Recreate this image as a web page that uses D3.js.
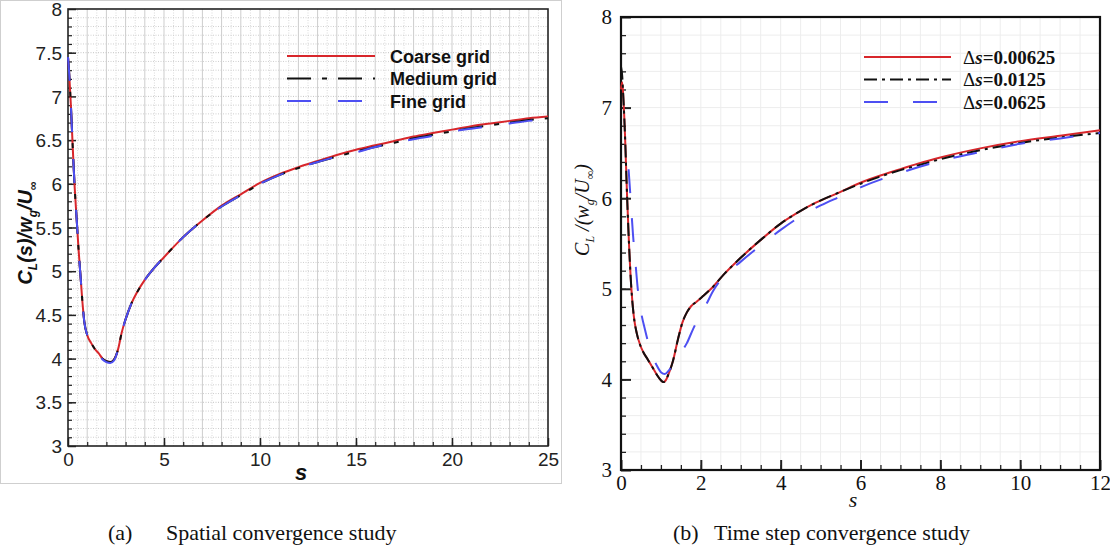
<!DOCTYPE html>
<html>
<head>
<meta charset="utf-8">
<script src="https://cdn.jsdelivr.net/npm/d3@7/dist/d3.min.js"></script>
<style>
  html, body { margin: 0; padding: 0; background: #fff; }
  svg { display: block; }
</style>
</head>
<body>
<svg id="chart" width="1110" height="556"></svg>
<script>
// ---- (a) spatial convergence: lift coefficient history for three grids ----
const sA = [0, 0.05, 0.15, 0.25, 0.35, 0.45, 0.55, 0.65, 0.75, 0.85, 1.0, 1.2, 1.4, 1.6, 1.8, 2.0, 2.2, 2.4, 2.6, 2.8, 3.0, 3.3, 3.6, 4.0, 4.5, 5, 6, 7, 8, 9, 10, 11, 12, 13, 14, 15, 16, 17, 18, 19, 20, 21, 22, 23, 24, 25];
const coarseGrid = [7.45, 7.3, 6.9, 6.4, 5.95, 5.6, 5.25, 4.95, 4.65, 4.42, 4.27, 4.18, 4.11, 4.06, 4.0, 3.97, 3.96, 3.99, 4.1, 4.3, 4.45, 4.63, 4.76, 4.9, 5.04, 5.16, 5.39, 5.58, 5.75, 5.88, 6.01, 6.11, 6.19, 6.26, 6.33, 6.39, 6.44, 6.49, 6.54, 6.58, 6.62, 6.66, 6.69, 6.72, 6.75, 6.77];
const mediumGrid = [7.45, 7.3, 6.9, 6.4, 5.95, 5.6, 5.25, 4.95, 4.65, 4.42, 4.27, 4.18, 4.11, 4.06, 4.0, 3.97, 3.96, 3.99, 4.1, 4.3, 4.45, 4.63, 4.76, 4.9, 5.04, 5.16, 5.39, 5.58, 5.74, 5.87, 6.0, 6.1, 6.18, 6.25, 6.31, 6.37, 6.42, 6.47, 6.52, 6.56, 6.6, 6.64, 6.67, 6.7, 6.73, 6.75];
const fineGrid   = [7.45, 7.3, 6.9, 6.4, 5.95, 5.6, 5.25, 4.95, 4.65, 4.42, 4.27, 4.18, 4.11, 4.05, 3.99, 3.96, 3.95, 3.98, 4.1, 4.3, 4.45, 4.63, 4.76, 4.9, 5.04, 5.16, 5.39, 5.58, 5.74, 5.87, 6.0, 6.1, 6.18, 6.25, 6.31, 6.36, 6.42, 6.47, 6.51, 6.55, 6.6, 6.63, 6.66, 6.69, 6.72, 6.74];
const seriesA = ["Coarse grid", "Medium grid", "Fine grid"];
const xTicksA = [0, 5, 10, 15, 20, 25];
const yTicksA = [3, 3.5, 4, 4.5, 5, 5.5, 6, 6.5, 7, 7.5, 8];

// ---- (b) time-step convergence ----
const sB = [0, 0.03, 0.06, 0.1, 0.15, 0.2, 0.26, 0.32, 0.4, 0.48, 0.56, 0.67, 0.78, 0.9, 1.0, 1.06, 1.12, 1.2, 1.3, 1.42, 1.54, 1.65, 1.76, 1.9, 2.03, 2.3, 2.6, 2.92, 3.5, 4.0, 4.5, 4.88, 5.5, 6.0, 6.5, 7.0, 7.5, 8.0, 9.0, 10, 11, 12];
const dt00625 = [7.2, 7.28, 7.1, 6.7, 6.05, 5.5, 5.0, 4.7, 4.5, 4.38, 4.3, 4.22, 4.14, 4.05, 3.99, 3.97, 3.99, 4.07, 4.2, 4.43, 4.63, 4.74, 4.81, 4.86, 4.91, 5.02, 5.17, 5.31, 5.54, 5.72, 5.86, 5.95, 6.07, 6.17, 6.25, 6.32, 6.39, 6.45, 6.55, 6.63, 6.69, 6.75];
const dt0125  = [7.45, 7.35, 7.1, 6.7, 6.05, 5.5, 5.0, 4.7, 4.5, 4.38, 4.3, 4.22, 4.14, 4.05, 3.99, 3.97, 3.99, 4.07, 4.2, 4.43, 4.63, 4.74, 4.81, 4.86, 4.91, 5.02, 5.17, 5.31, 5.54, 5.72, 5.86, 5.95, 6.07, 6.16, 6.24, 6.31, 6.37, 6.43, 6.53, 6.61, 6.67, 6.72];
const sB3 = [0.19, 0.24, 0.3, 0.36, 0.42, 0.5, 0.6, 0.7, 0.8, 0.9, 1.0, 1.1, 1.2, 1.3, 1.45, 1.65, 1.8, 1.96, 2.15, 2.3, 2.5, 3.0, 3.5, 4.0, 4.5, 5.0, 5.5, 6.0, 7.0, 8.0, 9.0, 10, 11, 12];
const dt0625  = [6.32, 6.0, 5.6, 5.3, 5.0, 4.75, 4.55, 4.38, 4.25, 4.15, 4.08, 4.06, 4.1, 4.16, 4.27, 4.4, 4.55, 4.69, 4.84, 4.97, 5.1, 5.3, 5.48, 5.65, 5.8, 5.92, 6.02, 6.12, 6.28, 6.41, 6.51, 6.6, 6.66, 6.72];
const seriesB = ["0.00625", "0.0125", "0.0625"];
const xTicksB = [0, 2, 4, 6, 8, 10, 12];
const yTicksB = [3, 4, 5, 6, 7, 8];

const RED = "#d8262b", BLACK = "#111", BLUE = "#4d4ff2";
const svg = d3.select("#chart");
const range = (a, b, st) => d3.range(Math.round((b - a) / st) + 1).map(i => +(a + i * st).toFixed(4));

// ================= panel (a) =================
const gA = svg.append("g");
gA.append("rect").attr("x", 0.5).attr("y", 0.5).attr("width", 561).attr("height", 483)
  .attr("fill", "none").attr("stroke", "#cfcfcf").attr("stroke-width", 1);

const xA = d3.scaleLinear().domain([0, 25]).range([68, 548]);
const yA = d3.scaleLinear().domain([3, 8]).range([446, 9]);

// grid
range(0.5, 24.5, 0.5).forEach(v => {
  const major = Math.abs(v - Math.round(v)) < 1e-6;
  gA.append("line").attr("x1", xA(v)).attr("x2", xA(v)).attr("y1", yA(3)).attr("y2", yA(8))
    .attr("stroke", major ? "#cdcdcd" : "#d9d9d9").attr("stroke-width", 1)
    .attr("stroke-dasharray", major ? null : "1,1.5");
});
range(3.1, 7.9, 0.1).forEach(v => {
  const major = Math.abs(v * 2 - Math.round(v * 2)) < 1e-6;
  gA.append("line").attr("x1", xA(0)).attr("x2", xA(25)).attr("y1", yA(v)).attr("y2", yA(v))
    .attr("stroke", major ? "#c4c4c4" : "#cfcfcf").attr("stroke-width", 1)
    .attr("stroke-dasharray", "1,1.5");
});

// ticks (inward)
const tickStyle = (g, w) => { g.select(".domain").remove(); g.selectAll("line").attr("stroke", "#222").attr("stroke-width", w); };
gA.append("g").attr("transform", `translate(0,${yA(3)})`)
  .call(d3.axisBottom(xA).tickValues(range(1, 24, 1)).tickSize(-4).tickFormat(""))
  .call(g => tickStyle(g, 1.2));
gA.append("g").attr("transform", `translate(0,${yA(3)})`)
  .call(d3.axisBottom(xA).tickValues(xTicksA).tickSize(-8).tickPadding(4).tickFormat(d3.format("d")))
  .call(g => tickStyle(g, 1.5))
  .call(g => g.selectAll("text").attr("font-family", "Liberation Sans, Arial, sans-serif").attr("font-size", 19).attr("fill", "#222").attr("dy", "1.05em").attr("y", 0));
gA.append("g").attr("transform", `translate(${xA(0)},0)`)
  .call(d3.axisLeft(yA).tickValues(range(3.1, 7.9, 0.1)).tickSize(-4).tickFormat(""))
  .call(g => tickStyle(g, 1.2));
gA.append("g").attr("transform", `translate(${xA(0)},0)`)
  .call(d3.axisLeft(yA).tickValues(yTicksA).tickSize(-8).tickFormat(d => d3.format("")(d)))
  .call(g => tickStyle(g, 1.5))
  .call(g => g.selectAll("text").attr("font-family", "Liberation Sans, Arial, sans-serif").attr("font-size", 19).attr("fill", "#222").attr("x", -6).attr("dy", "0.35em"));

// frame
gA.append("rect").attr("x", xA(0)).attr("y", yA(8)).attr("width", xA(25) - xA(0)).attr("height", yA(3) - yA(8))
  .attr("fill", "none").attr("stroke", "#222").attr("stroke-width", 1.6);

// curves
const lineA = d3.line().x(d => xA(d[0])).y(d => yA(d[1])).curve(d3.curveMonotoneX);
const styleA = [
  { vals: coarseGrid, color: RED, dash: null },
  { vals: mediumGrid, color: BLACK, dash: "24,11,5,11" },
  { vals: fineGrid, color: BLUE, dash: "24,27" }
];
styleA.forEach(st => {
  gA.append("path").datum(sA.map((s, i) => [s, st.vals[i]]))
    .attr("d", lineA).attr("fill", "none").attr("stroke", st.color).attr("stroke-width", 2)
    .attr("stroke-dasharray", st.dash);
});

// legend
const legA = gA.append("g");
seriesA.forEach((name, i) => {
  const y = 56 + i * 22.5;
  legA.append("line").attr("x1", 287).attr("x2", 375).attr("y1", y).attr("y2", y)
    .attr("stroke", styleA[i].color).attr("stroke-width", 2).attr("stroke-dasharray", styleA[i].dash);
  legA.append("text").attr("x", 390).attr("y", y + 6.5).text(name)
    .attr("font-family", "Liberation Sans, Arial, sans-serif").attr("font-weight", "bold").attr("font-size", 18).attr("fill", "#111");
});

// axis titles
gA.append("text").attr("x", 301).attr("y", 480).attr("text-anchor", "middle")
  .attr("font-family", "Liberation Sans, Arial, sans-serif").attr("font-weight", "bold").attr("font-style", "italic")
  .attr("font-size", 22).attr("fill", "#111").text("s");
const yLabA = gA.append("text").attr("transform", "translate(32,233) rotate(-90)").attr("text-anchor", "middle")
  .attr("font-family", "Liberation Sans, Arial, sans-serif").attr("font-weight", "bold").attr("font-style", "italic")
  .attr("font-size", 20).attr("fill", "#111");
yLabA.append("tspan").text("C");
yLabA.append("tspan").attr("font-size", 12).attr("dy", 5).text("L");
yLabA.append("tspan").attr("dy", -5).text("(s)/w");
yLabA.append("tspan").attr("font-size", 12).attr("dy", 5).text("g");
yLabA.append("tspan").attr("dy", -5).text("/U");
yLabA.append("tspan").attr("font-size", 12).attr("dy", 5).attr("font-style", "normal").text("∞");

// ================= panel (b) =================
const gB = svg.append("g");
const xB = d3.scaleLinear().domain([0, 12]).range([621, 1100]);
const yB = d3.scaleLinear().domain([3, 8]).range([470, 17]);

range(0.5, 11.5, 0.5).forEach(v => {
  gB.append("line").attr("x1", xB(v)).attr("x2", xB(v)).attr("y1", yB(3)).attr("y2", yB(8))
    .attr("stroke", "#ededed").attr("stroke-width", 1);
});
range(3.2, 7.8, 0.2).forEach(v => {
  gB.append("line").attr("x1", xB(0)).attr("x2", xB(12)).attr("y1", yB(v)).attr("y2", yB(v))
    .attr("stroke", "#ededed").attr("stroke-width", 1);
});

gB.append("g").attr("transform", `translate(0,${yB(3)})`)
  .call(d3.axisBottom(xB).tickValues(range(0.5, 11.5, 0.5)).tickSize(-5).tickFormat(""))
  .call(g => tickStyle(g, 1.3));
gB.append("g").attr("transform", `translate(0,${yB(3)})`)
  .call(d3.axisBottom(xB).tickValues(xTicksB).tickSize(-10).tickFormat(d3.format("d")))
  .call(g => tickStyle(g, 2))
  .call(g => g.selectAll("text").attr("font-family", "Liberation Serif, Times New Roman, serif").attr("font-size", 21).attr("fill", "#111").attr("y", 0).attr("dy", "0.95em"));
gB.append("g").attr("transform", `translate(${xB(0)},0)`)
  .call(d3.axisLeft(yB).tickValues(range(3.2, 7.8, 0.2)).tickSize(-5).tickFormat(""))
  .call(g => tickStyle(g, 1.3));
gB.append("g").attr("transform", `translate(${xB(0)},0)`)
  .call(d3.axisLeft(yB).tickValues(yTicksB).tickSize(-10).tickFormat(d3.format("d")))
  .call(g => tickStyle(g, 2))
  .call(g => g.selectAll("text").attr("font-family", "Liberation Serif, Times New Roman, serif").attr("font-size", 21).attr("fill", "#111").attr("x", -9).attr("dy", "0.33em"));

gB.append("rect").attr("x", xB(0)).attr("y", yB(8)).attr("width", xB(12) - xB(0)).attr("height", yB(3) - yB(8))
  .attr("fill", "none").attr("stroke", "#111").attr("stroke-width", 2.2);

const lineB = d3.line().x(d => xB(d[0])).y(d => yB(d[1])).curve(d3.curveMonotoneX);
const styleB = [
  { xs: sB, vals: dt00625, color: RED, dash: null },
  { xs: sB, vals: dt0125, color: BLACK, dash: "13,5,3,5" },
  { xs: sB3, vals: dt0625, color: BLUE, dash: "24,25" }
];
styleB.forEach(st => {
  gB.append("path").datum(st.xs.map((s, i) => [s, st.vals[i]]))
    .attr("d", lineB).attr("fill", "none").attr("stroke", st.color).attr("stroke-width", 2)
    .attr("stroke-dasharray", st.dash);
});

const legB = gB.append("g");
seriesB.forEach((val, i) => {
  const y = 57 + i * 22.5;
  legB.append("line").attr("x1", 864).attr("x2", 951).attr("y1", y).attr("y2", y)
    .attr("stroke", styleB[i].color).attr("stroke-width", 2.2).attr("stroke-dasharray", styleB[i].dash);
  const t = legB.append("text").attr("x", 963).attr("y", y + 6.5)
    .attr("font-family", "Liberation Serif, Times New Roman, serif").attr("font-weight", "bold").attr("font-size", 19).attr("fill", "#111");
  t.append("tspan").attr("font-weight", "normal").text("Δ");
  t.append("tspan").attr("font-style", "italic").text("s");
  t.append("tspan").text("=" + val);
});

gB.append("text").attr("x", 853).attr("y", 507).attr("text-anchor", "middle")
  .attr("font-family", "Liberation Serif, Times New Roman, serif").attr("font-style", "italic")
  .attr("font-size", 22).attr("fill", "#111").text("s");
const yLabB = gB.append("text").attr("transform", "translate(589,210) rotate(-90)").attr("text-anchor", "middle")
  .attr("font-family", "Liberation Serif, Times New Roman, serif").attr("font-style", "italic")
  .attr("font-size", 20).attr("fill", "#111");
yLabB.append("tspan").text("C");
yLabB.append("tspan").attr("font-size", 12).attr("dy", 5).text("L");
yLabB.append("tspan").attr("dy", -5).text(" /(w");
yLabB.append("tspan").attr("font-size", 12).attr("dy", 5).text("g");
yLabB.append("tspan").attr("dy", -5).text("/U");
yLabB.append("tspan").attr("font-size", 12).attr("dy", 5).attr("font-style", "normal").text("∞");
yLabB.append("tspan").attr("dy", -5).text(")");

// ================= captions =================
const cap = svg.append("g").attr("font-family", "Liberation Serif, Times New Roman, serif").attr("font-size", 22).attr("fill", "#111");
cap.append("text").attr("x", 108).attr("y", 540).text("(a)");
cap.append("text").attr("x", 166).attr("y", 540).text("Spatial convergence study");
cap.append("text").attr("x", 673).attr("y", 540).text("(b)");
cap.append("text").attr("x", 714).attr("y", 540).text("Time step convergence study");
</script>
</body>
</html>
